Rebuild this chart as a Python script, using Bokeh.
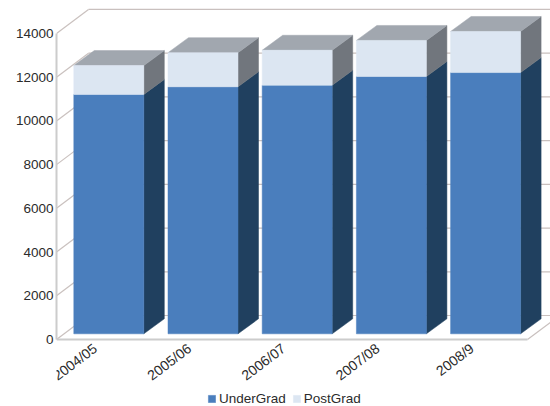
from bokeh.embed import file_html
from bokeh.resources import INLINE
from bokeh.plotting import figure
from bokeh.models import FixedTicker, Legend, LegendItem, Range1d

# Enrolment by academic year
years = ["2004/05", "2005/06", "2006/07", "2007/08", "2008/9"]
undergrad = [10950, 11300, 11370, 11770, 11950]
postgrad = [1320, 1560, 1600, 1650, 1880]
y_ticks = [0, 2000, 4000, 6000, 8000, 10000, 12000, 14000]

# Colours of the faces
UG_FRONT, UG_SIDE = "#4a7ebd", "#20405f"
PG_FRONT, PG_SIDE = "#dce6f2", "#71767d"
TOP_FACE = "#a1a7af"
WALL_LINE, AXIS_LINE = "#c9c0be", "#cccccc"
TEXT = "#2b2b2b"

# Scales of the oblique projection
PX_PER_CAT = 94.2
PX_PER_UNIT = 0.02186
WIDTH, HEIGHT = 550, 406
LEFT, BOTTOM = 56, 67


def cat(px):
    return px / PX_PER_CAT


def val(px):
    return px / PX_PER_UNIT


# Room depth, bar depth, and the bars' setback from the front of the floor
ROOM_DX, ROOM_DY = cat(32), val(24)
BAR_DX, BAR_DY = cat(20.5), val(15)
SET_DX, SET_DY = cat(5.2), val(5.7)
BAR_W = cat(70)
X_END = 4.5 + cat(23)

# The plot frame runs to the page's lower edge so the key can sit inside it
p = figure(
    width=WIDTH, height=HEIGHT,
    frame_width=WIDTH - LEFT, frame_height=HEIGHT,
    output_backend="svg", toolbar_location=None,
    x_range=Range1d(-0.5, X_END),
    y_range=Range1d(-val(BOTTOM), val(HEIGHT - BOTTOM)),
    min_border_left=LEFT, min_border_bottom=0, min_border_top=0, min_border_right=0,
    background_fill_color="white", border_fill_color="white", outline_line_color=None,
)
p.grid.visible = False

# Back wall lines and the matching diagonals on the side wall
wall_x = -0.5 + ROOM_DX
for tick in y_ticks:
    p.line([wall_x, X_END], [tick + ROOM_DY] * 2, line_color=WALL_LINE, line_width=1.2)
    p.line([-0.5, wall_x], [tick, tick + ROOM_DY], line_color=WALL_LINE, line_width=1.2)
# Right-hand edge of the floor
p.line([4.5, 4.5 + ROOM_DX], [0, ROOM_DY], line_color=WALL_LINE, line_width=1.2)

# Boxes, one stacked column per year
ug_renderer = pg_renderer = None
for i, (u, g) in enumerate(zip(undergrad, postgrad)):
    x0 = i - BAR_W / 2 + SET_DX
    x1 = i + BAR_W / 2 + SET_DX
    y0 = SET_DY
    y1 = y0 + u
    y2 = y1 + g
    back_x = x1 + BAR_DX
    p.patch([x1, back_x, back_x, x1], [y0, y0 + BAR_DY, y1 + BAR_DY, y1], fill_color=UG_SIDE, line_color=UG_SIDE, line_width=0.5)
    p.patch([x1, back_x, back_x, x1], [y1, y1 + BAR_DY, y2 + BAR_DY, y2], fill_color=PG_SIDE, line_color=PG_SIDE, line_width=0.5)
    p.patch([x0, x1, back_x, x0 + BAR_DX], [y2, y2, y2 + BAR_DY, y2 + BAR_DY], fill_color=TOP_FACE, line_color=TOP_FACE, line_width=0.5)
    ug_renderer = p.quad(left=x0, right=x1, bottom=y0, top=y1, fill_color=UG_FRONT, line_color=UG_FRONT, line_width=0.5)
    pg_renderer = p.quad(left=x0, right=x1, bottom=y1, top=y2, fill_color=PG_FRONT, line_color=PG_FRONT, line_width=0.5)

# Axes
p.yaxis.ticker = FixedTicker(ticks=y_ticks)
p.yaxis.bounds = (0, 14000)
p.yaxis.major_tick_line_color = None
p.yaxis.minor_tick_line_color = None
p.yaxis.major_tick_out = 0
p.yaxis.major_tick_in = 0
p.yaxis.minor_tick_out = 0
p.yaxis.axis_line_color = AXIS_LINE
p.yaxis.axis_line_width = 2
p.yaxis.major_label_text_font = "Liberation Sans"
p.yaxis.major_label_text_font_size = "13.5px"
p.yaxis.major_label_text_color = TEXT
p.yaxis.major_label_standoff = 3

# Slanted labels end a little to the left of each category's centre
label_ticks = [round(i - 0.09, 2) for i in range(len(years))]
p.xaxis.ticker = FixedTicker(ticks=label_ticks)
p.xaxis.major_label_overrides = dict(zip(label_ticks, years))
p.xaxis.bounds = (-0.5, 4.5)
p.xaxis.fixed_location = 0
p.xaxis.major_tick_line_color = None
p.xaxis.minor_tick_line_color = None
p.xaxis.major_tick_out = 0
p.xaxis.major_tick_in = 0
p.xaxis.minor_tick_out = 0
p.xaxis.axis_line_color = AXIS_LINE
p.xaxis.axis_line_width = 2
p.xaxis.major_label_orientation = 0.65
p.xaxis.major_label_text_font = "Liberation Sans"
p.xaxis.major_label_text_font_size = "14px"
p.xaxis.major_label_text_color = TEXT
p.xaxis.major_label_standoff = 7

legend = Legend(
    items=[LegendItem(label="UnderGrad", renderers=[ug_renderer]),
           LegendItem(label="PostGrad", renderers=[pg_renderer])],
    orientation="horizontal", location=(151, 0),
    background_fill_alpha=0, border_line_color=None,
    glyph_width=9, glyph_height=9, spacing=6, label_standoff=3, margin=0, padding=0,
    label_text_font="Liberation Sans", label_text_font_size="13.5px", label_text_color=TEXT,
)
p.add_layout(legend)

open("out.html", "w").write(file_html(p, INLINE))
